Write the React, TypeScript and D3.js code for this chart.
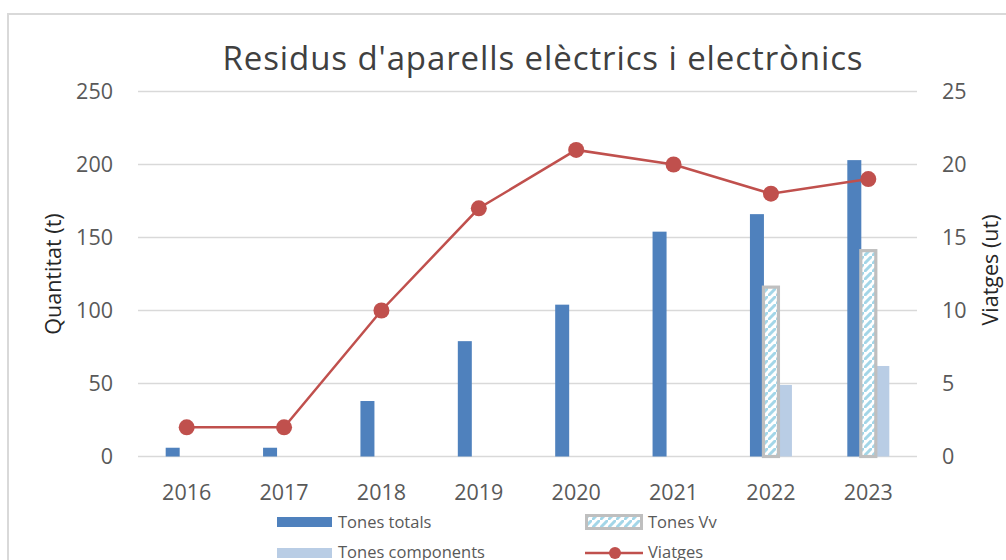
import React from "react";
import * as d3 from "d3";

const years = ["2016", "2017", "2018", "2019", "2020", "2021", "2022", "2023"];
const tonesTotals = [6, 6, 38, 79, 104, 154, 166, 203];
const tonesVv: (number | null)[] = [null, null, null, null, null, null, 116, 141];
const tonesComponents: (number | null)[] = [null, null, null, null, null, null, 49, 62];
const viatges = [2, 2, 10, 17, 21, 20, 18, 19];
const leftTicks = [0, 50, 100, 150, 200, 250];
const rightTicks = [0, 5, 10, 15, 20, 25];
const seriesKeys = ["totals", "vv", "components"];

const W = 1006;
const H = 560;
const FONT = "'Open Sans', 'Noto Sans', sans-serif";
const TXT = "#595959";
const C_TOT = "#4f81bd";
const C_COMP = "#b9cde5";
const C_LINE = "#c0504d";
const C_GRID = "#d9d9d9";

export default function App() {
  const plotL = 138;
  const plotR = 917;
  const x = d3.scaleBand<string>().domain(years).range([plotL, plotR]).padding(0);
  const y = d3.scaleLinear().domain([0, 250]).range([456.5, 91.5]);
  const y2 = d3.scaleLinear().domain([0, 25]).range([456.5, 91.5]);
  const groupW = 42;
  const sub = d3
    .scaleBand<string>()
    .domain(seriesKeys)
    .range([(x.bandwidth() - groupW) / 2, (x.bandwidth() + groupW) / 2])
    .padding(0);
  const bw = sub.bandwidth();
  const cx = (yr: string) => (x(yr) as number) + x.bandwidth() / 2;
  const line = d3
    .line<number>()
    .x((_, i) => cx(years[i]))
    .y((v) => y2(v));

  return (
    <svg
      width={W}
      height={H}
      style={{ position: "fixed", left: 0, top: 0, background: "#fff" }}
      fontFamily={FONT}
    >
      <defs>
        <pattern id="vvpat" width="8" height="8" patternUnits="userSpaceOnUse">
          <rect width="8" height="8" fill="#ffffff" />
          <path d="M-1,9 L9,-1" stroke="#a3d6e8" strokeWidth="3" />
        </pattern>
      </defs>
      <rect x={8} y={14} width={1100} height={600} fill="#fff" stroke={C_GRID} strokeWidth={2} />

      <text x={543} y={70} textAnchor="middle" fontSize={33} letterSpacing={0.9} fill="#404040">
        Residus d'aparells elèctrics i electrònics
      </text>

      {leftTicks.map((t) => (
        <line key={"g" + t} x1={plotL} x2={plotR} y1={y(t)} y2={y(t)} stroke={C_GRID} strokeWidth={1.6} />
      ))}
      {leftTicks.map((t) => (
        <text key={"l" + t} x={113} y={y(t)} dy="0.36em" textAnchor="end" fontSize={21.5} fill={TXT}>
          {t}
        </text>
      ))}
      {rightTicks.map((t) => (
        <text key={"r" + t} x={942} y={y2(t)} dy="0.36em" textAnchor="start" fontSize={21.5} fill={TXT}>
          {t}
        </text>
      ))}
      {years.map((yr) => (
        <text key={"x" + yr} x={cx(yr)} y={492} dy="0.36em" textAnchor="middle" fontSize={21.5} fill={TXT}>
          {yr}
        </text>
      ))}
      <text
        transform={`translate(53,274) rotate(-90)`}
        textAnchor="middle"
        dy="0.36em"
        fontSize={21.5}
        fill="#262626"
      >
        Quantitat (t)
      </text>
      <text
        transform={`translate(990,270) rotate(-90)`}
        textAnchor="middle"
        dy="0.36em"
        fontSize={21.5}
        fill="#262626"
      >
        Viatges (ut)
      </text>

      {years.map((yr, i) => {
        const x0 = x(yr) as number;
        const els: React.ReactNode[] = [];
        els.push(
          <rect
            key="t"
            x={x0 + (sub("totals") as number)}
            y={y(tonesTotals[i])}
            width={bw}
            height={y(0) - y(tonesTotals[i])}
            fill={C_TOT}
          />
        );
        const cp = tonesComponents[i];
        if (cp != null) {
          els.push(
            <rect
              key="c"
              x={x0 + (sub("components") as number)}
              y={y(cp)}
              width={bw}
              height={y(0) - y(cp)}
              fill={C_COMP}
            />
          );
        }
        const vv = tonesVv[i];
        if (vv != null) {
          els.push(
            <rect
              key="v"
              x={x0 + (sub("vv") as number) - 0.5}
              y={y(vv)}
              width={bw + 1}
              height={y(0) - y(vv)}
              fill="url(#vvpat)"
              stroke="#bfbfbf"
              strokeWidth={3.2}
            />
          );
        }
        return <g key={"b" + yr}>{els}</g>;
      })}

      <path d={line(viatges) || ""} fill="none" stroke={C_LINE} strokeWidth={2.5} />
      {viatges.map((v, i) => (
        <circle key={"m" + i} cx={cx(years[i])} cy={y2(v)} r={8} fill={C_LINE} />
      ))}

      {/* legend */}
      <rect x={277} y={517} width={55} height={10} fill={C_TOT} />
      <text x={338} y={522} dy="0.36em" fontSize={16.5} fill={TXT}>
        Tones totals
      </text>
      <rect x={586.5} y={515.5} width={55} height={13} fill="url(#vvpat)" stroke="#bfbfbf" strokeWidth={3} />
      <text x={648} y={522} dy="0.36em" fontSize={16.5} fill={TXT}>
        Tones Vv
      </text>
      <rect x={277} y={548} width={55} height={10} fill={C_COMP} />
      <text x={338} y={552} dy="0.36em" fontSize={16.5} fill={TXT}>
        Tones components
      </text>
      <line x1={585} x2={643} y1={553} y2={553} stroke={C_LINE} strokeWidth={2.5} />
      <circle cx={615} cy={553} r={6} fill={C_LINE} />
      <text x={648} y={552} dy="0.36em" fontSize={16.5} fill={TXT}>
        Viatges
      </text>
    </svg>
  );
}
